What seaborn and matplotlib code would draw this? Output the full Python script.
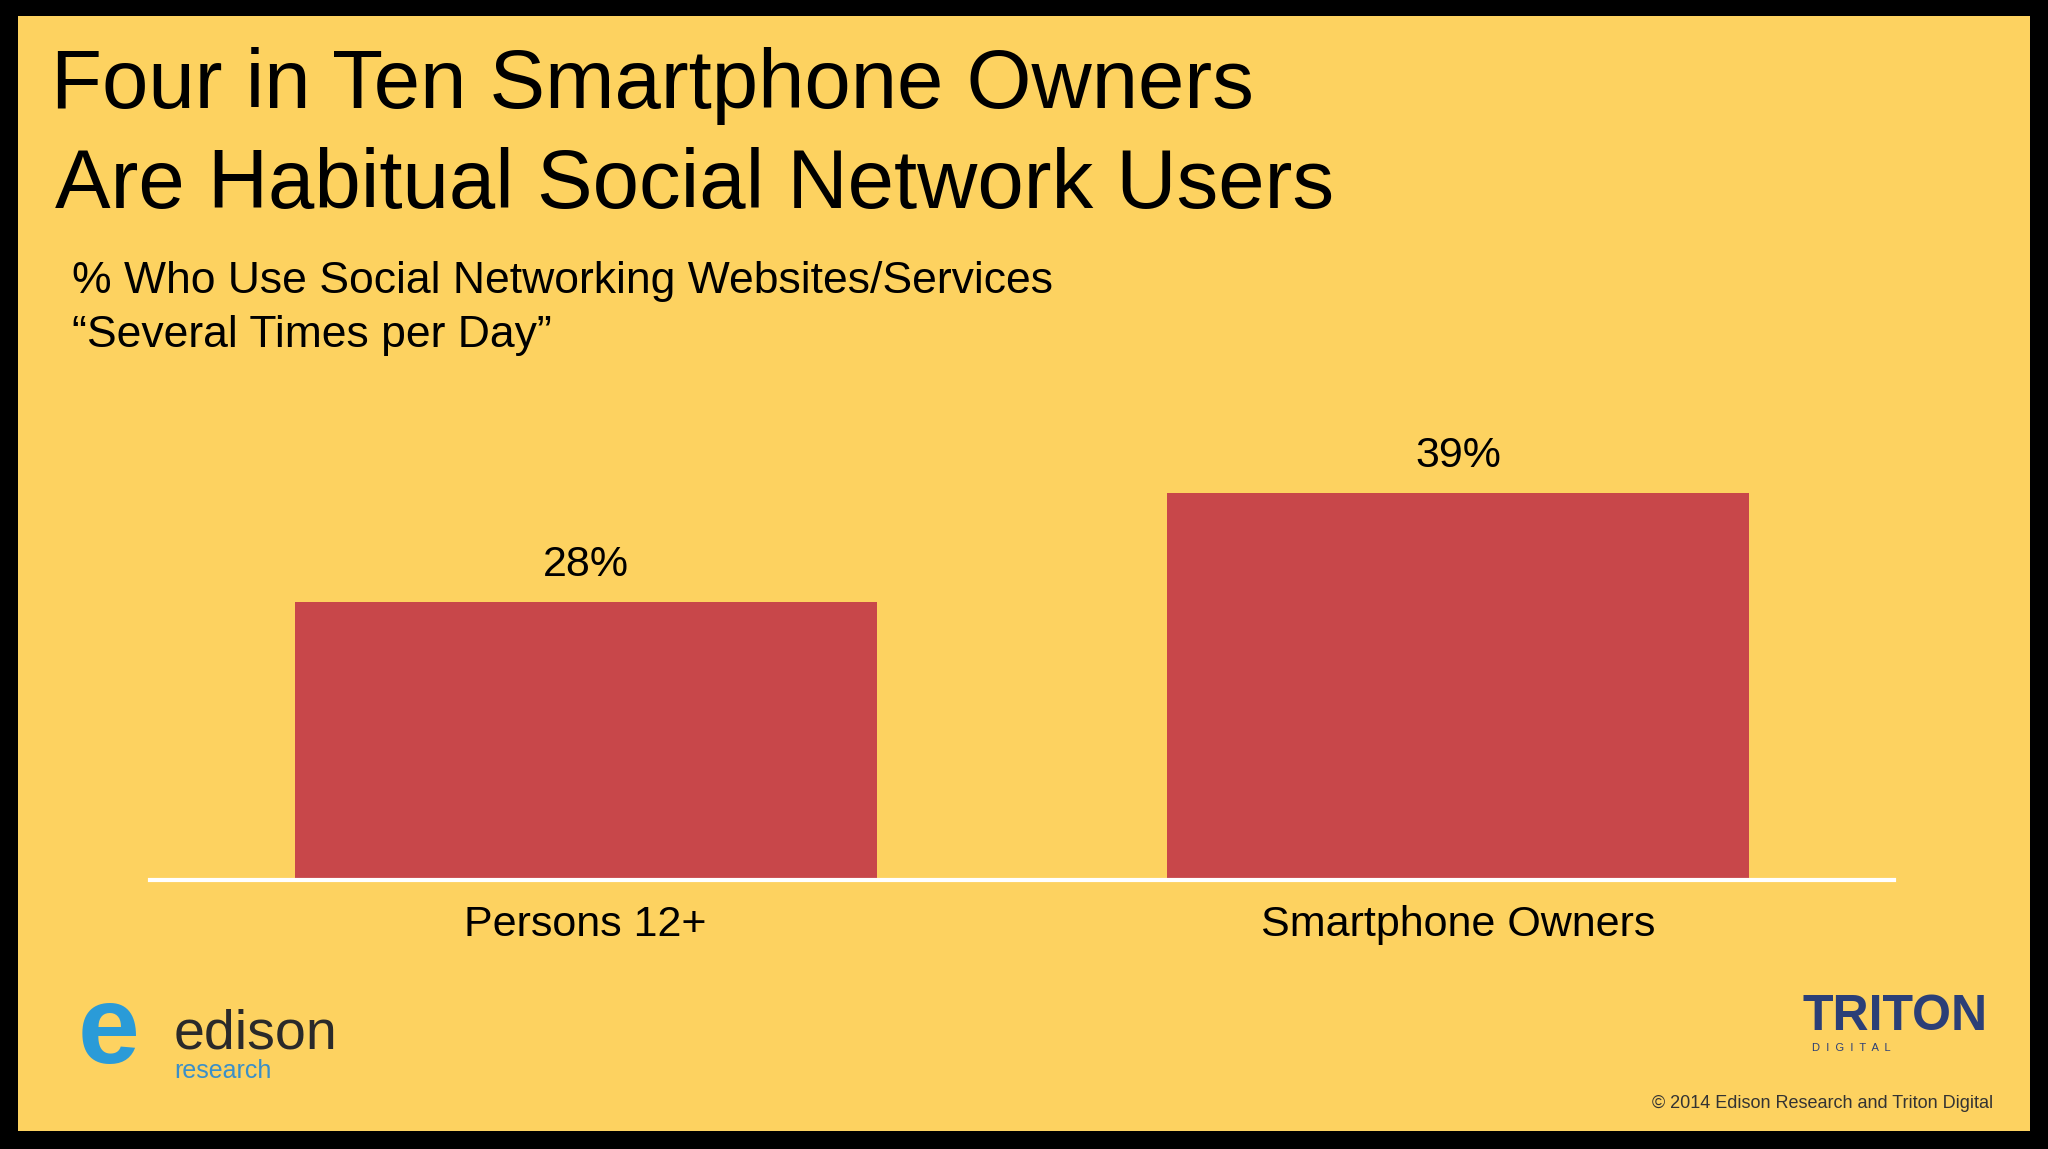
import matplotlib
matplotlib.use("Agg")
import matplotlib.pyplot as plt
import seaborn as sns
import pandas as pd
from matplotlib.patches import Rectangle

# data
groups = ["Persons 12+", "Smartphone Owners"]
values = [28, 39]

yellow = "#FDD260"
bar_red = "#C8474A"

sns.set_style("white")
plt.rcParams["font.family"] = ["Liberation Sans", "DejaVu Sans"]
plt.rcParams["text.color"] = "black"
plt.rcParams["xtick.color"] = "black"

fig = plt.figure(figsize=(20.48, 11.49), dpi=100)
fig.patch.set_facecolor("black")
fig.patches.append(Rectangle((0.009, 0.016), 0.982, 0.97, transform=fig.transFigure,
                             facecolor=yellow, edgecolor="none", zorder=-10))

ax = fig.add_axes([0.073, 0.234, 0.852, 0.432])
ax.set_zorder(5)
df = pd.DataFrame({"group": groups, "value": values})
sns.barplot(data=df, x="group", y="value", color=bar_red, width=0.667,
            saturation=1, edgecolor="none", linewidth=0, ax=ax)
ax.set_facecolor("none")
ax.patch.set_alpha(0)
ax.set_xlim(-0.5, 1.5)
ax.set_ylim(0, 50)
for s in ["top", "right", "left"]:
    ax.spines[s].set_visible(False)
ax.spines["bottom"].set_color("white")
ax.spines["bottom"].set_linewidth(3)
ax.set_yticks([])
ax.set_xlabel("")
ax.set_ylabel("")
ax.tick_params(axis="x", length=0, labelsize=31, pad=18, labelcolor="black")
for i, v in enumerate(values):
    ax.text(i, v + 1.7, f"{v}%", ha="center", va="bottom", fontsize=31)

# titles
fig.text(0.025, 0.925, "Four in Ten Smartphone Owners", fontsize=60, va="center")
fig.text(0.027, 0.838, "Are Habitual Social Network Users", fontsize=60, va="center")
fig.text(0.035, 0.755, "% Who Use Social Networking Websites/Services", fontsize=32, va="center")
fig.text(0.035, 0.708, "\u201cSeveral Times per Day\u201d", fontsize=32, va="center")

# logos as text
fig.text(0.085, 0.1, "edison", fontsize=40, color="#2A2A2A", va="center")
fig.text(0.085, 0.068, "research", fontsize=18, color="#3A8FC8", va="center")
fig.text(0.038, 0.1, "e", fontsize=80, color="#2A9BD8", va="center", fontweight="bold")
fig.text(0.88, 0.115, "TRITON", fontsize=36, color="#2B3F77", va="center", fontweight="bold")
fig.text(0.885, 0.088, "D  I  G  I  T  A  L", fontsize=8, color="#2B3F77", va="center")
fig.text(0.973, 0.04, "\u00a9 2014 Edison Research and Triton Digital", fontsize=13,
         color="#333333", ha="right", va="center")

fig.savefig("out.png", dpi=100, facecolor=fig.get_facecolor())
